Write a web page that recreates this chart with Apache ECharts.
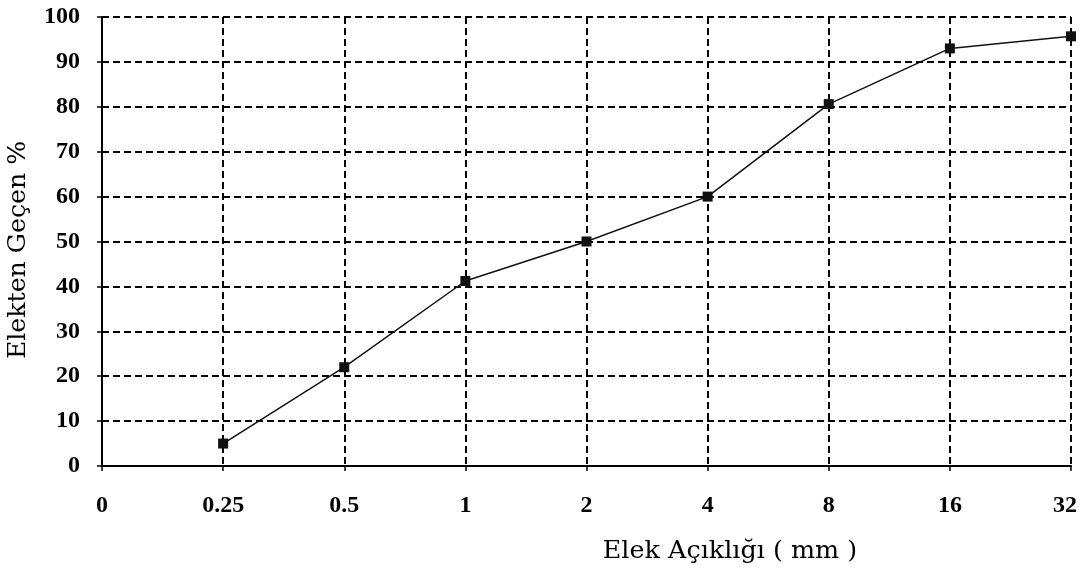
<!DOCTYPE html>
<html>
<head>
<meta charset="utf-8">
<script src="https://cdn.jsdelivr.net/npm/echarts@6/dist/echarts.min.js"></script>
<style>html,body{margin:0;padding:0;background:#fff;}#c{width:1080px;height:573px;}</style>
</head>
<body>
<div id="c"></div>
<script>
var categories = ['0', '0.25', '0.5', '1', '2', '4', '8', '16', '32'];
var passing = [null, 5, 22, 41.2, 50, 60, 80.6, 93, 95.7];
var yTitle = 'Elekten Geçen %';
var xTitle = 'Elek Açıklığı ( mm )';

var chart = echarts.init(document.getElementById('c'));
var tickFont = '"Liberation Serif", serif';
var titleFont = '"DejaVu Serif", serif';
var catData = categories.map(function (c, i) {
  if (i === categories.length - 1) {
    return { value: c, textStyle: { padding: [0, 12, 0, 0] } };
  }
  return c;
});
chart.setOption({
  backgroundColor: '#ffffff',
  animation: false,
  grid: { left: 102, right: 9, top: 17, bottom: 107, containLabel: false, outerBoundsMode: 'none' },
  xAxis: {
    type: 'category',
    data: catData,
    boundaryGap: false,
    axisLine: { lineStyle: { color: '#000', width: 2 } },
    axisTick: { show: true, length: 5, lineStyle: { color: '#000', width: 1.5 } },
    axisLabel: { color: '#000', fontFamily: tickFont, fontWeight: 'bold', fontSize: 24, margin: 28, hideOverlap: false },
    splitLine: { show: true, lineStyle: { color: '#000', width: 2, type: [7, 4] } }
  },
  yAxis: {
    type: 'value',
    min: 0, max: 100, interval: 10,
    axisLine: { show: true, lineStyle: { color: '#000', width: 2 } },
    axisTick: { show: true, length: 5, lineStyle: { color: '#000', width: 1.5 } },
    axisLabel: { color: '#000', fontFamily: tickFont, fontWeight: 'bold', fontSize: 24, margin: 22 },
    splitLine: { show: true, lineStyle: { color: '#000', width: 2, type: [7, 4] } }
  },
  series: [{
    type: 'line',
    data: passing,
    connectNulls: false,
    symbol: 'rect',
    symbolSize: 10,
    itemStyle: { color: '#111' },
    lineStyle: { color: '#111', width: 1.5 }
  }],
  graphic: [
    { type: 'text', z: 10, x: 19, y: 250, rotation: Math.PI / 2, scaleX: 1.05,
      style: { text: yTitle, fill: '#000', font: '24px ' + titleFont, textAlign: 'center', textVerticalAlign: 'middle' } },
    { type: 'text', z: 10, x: 730, y: 552, scaleX: 1.06,
      style: { text: xTitle, fill: '#000', font: '24px ' + titleFont, textAlign: 'center', textVerticalAlign: 'middle' } }
  ]
});
</script>
</body>
</html>
